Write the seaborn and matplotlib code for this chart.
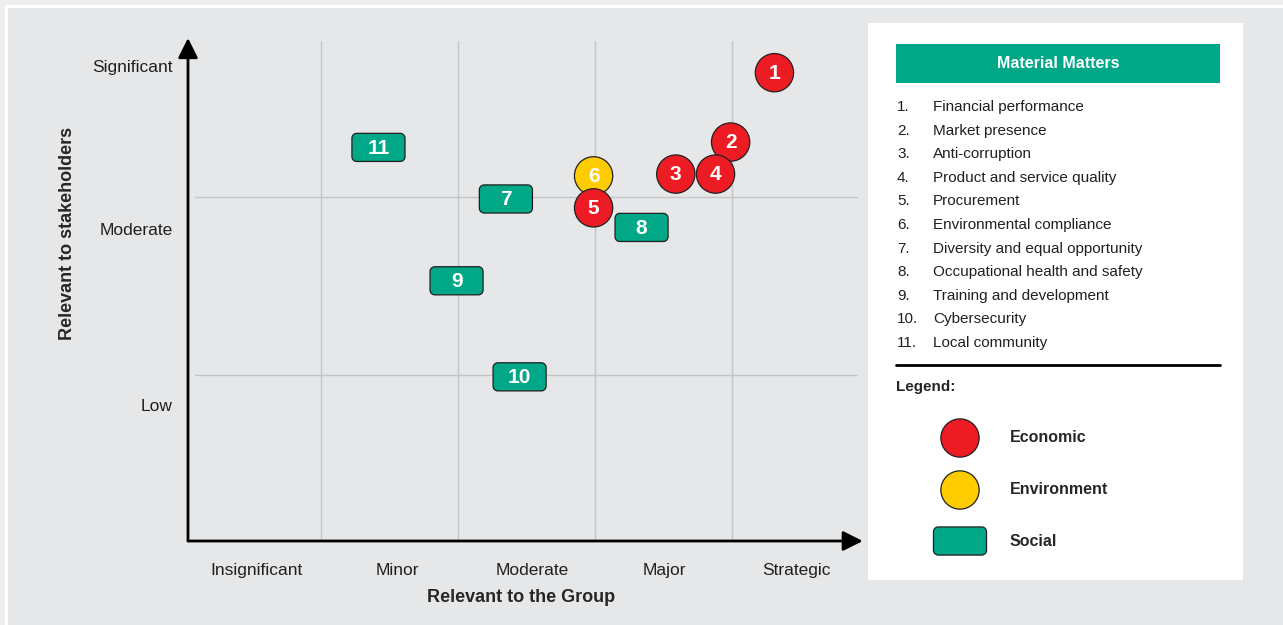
import numpy as np
import pandas as pd
import matplotlib
matplotlib.use("Agg")
import matplotlib.pyplot as plt
from matplotlib.path import Path
from matplotlib.patches import Rectangle
import seaborn as sns

ids = [1, 2, 3, 4, 6, 5, 7, 8, 9, 10, 11]
relevancia_grupo = [4.31, 3.99, 3.59, 3.88, 2.99, 2.99, 2.35, 3.34, 1.99, 2.45, 1.42]
relevancia_stake = [2.70, 2.31, 2.13, 2.13, 2.12, 1.94, 1.99, 1.83, 1.53, 0.99, 2.28]
categoria = ["Economic", "Economic", "Economic", "Economic", "Environment", "Economic",
             "Social", "Social", "Social", "Social", "Social"]

x_labels = ["Insignificant", "Minor", "Moderate", "Major", "Strategic"]
x_label_pos = [0.53, 1.56, 2.54, 3.51, 4.47]
y_labels = ["Low", "Moderate", "Significant"]
y_label_pos = [0.83, 1.82, 2.74]

temas = ["Financial performance", "Market presence", "Anti-corruption",
         "Product and service quality", "Procurement", "Environmental compliance",
         "Diversity and equal opportunity", "Occupational health and safety",
         "Training and development", "Cybersecurity", "Local community"]
leyenda = ["Economic", "Environment", "Social"]

colores = {"Economic": "#ed1c24", "Environment": "#ffcc00", "Social": "#00a887"}
BG = "#e6e7e8"
VERDE = "#00a887"


def caja_redondeada(w=1.0, h=0.53, r=0.09, n=8):
    # marcador rectangular con esquinas redondeadas
    pts = []
    esquinas = [(w / 2 - r, h / 2 - r, 0), (-w / 2 + r, h / 2 - r, 90),
                (-w / 2 + r, -h / 2 + r, 180), (w / 2 - r, -h / 2 + r, 270)]
    for cx, cy, a0 in esquinas:
        ang = np.radians(np.linspace(a0, a0 + 90, n))
        pts += list(zip(cx + r * np.cos(ang), cy + r * np.sin(ang)))
    pts.append(pts[0])
    codes = [Path.MOVETO] + [Path.LINETO] * (len(pts) - 2) + [Path.CLOSEPOLY]
    return Path(pts, codes)


marcadores = {"Economic": "o", "Environment": "o", "Social": caja_redondeada()}
tamanos = {"Economic": 760, "Environment": 760, "Social": 1460}

df = pd.DataFrame({"id": ids, "x": relevancia_grupo, "y": relevancia_stake, "cat": categoria})

sns.set_style("white")
plt.rcParams["font.family"] = ["Liberation Sans", "DejaVu Sans"]

fig = plt.figure(figsize=(12.83, 6.25), dpi=100)
fig.patch.set_facecolor("#eeeeee")

# ---------- fondo y panel de leyenda (coordenadas en píxeles) ----------
bg = fig.add_axes([0, 0, 1, 1], zorder=0)
bg.set_xlim(0, 1283)
bg.set_ylim(625, 0)
bg.axis("off")
bg.add_patch(Rectangle((5, 5), 1290, 630, facecolor="white", edgecolor="none"))
bg.add_patch(Rectangle((8, 8), 1290, 630, facecolor=BG, edgecolor="none"))
bg.add_patch(Rectangle((868, 23), 375, 557, facecolor="white", edgecolor="none"))
bg.add_patch(Rectangle((896, 44), 324, 39, facecolor=VERDE, edgecolor="none"))
bg.text(1058, 63.5, "Material Matters", color="white", fontsize=11.5, fontweight="bold",
        ha="center", va="center")
for i, t in enumerate(temas):
    yy = 107 + i * 23.6
    bg.text(897, yy, f"{i + 1}.", fontsize=11, color="#231f20", va="center")
    bg.text(933, yy, t, fontsize=11, color="#231f20", va="center")
bg.plot([896, 1220], [365, 365], color="black", lw=2)
bg.text(896, 387, "Legend:", fontsize=11, fontweight="bold", va="center")

ley = pd.DataFrame({"cat": leyenda, "x": [960] * 3, "y": [438, 490, 541]})
sns.scatterplot(data=ley, x="x", y="y", hue="cat", style="cat", size="cat",
                palette=colores, markers=marcadores, sizes=tamanos,
                edgecolor="#231f20", linewidth=0.9, legend=False, ax=bg, zorder=3)
for _, r in ley.iterrows():
    bg.text(1010, r["y"], r["cat"], fontsize=11.5, fontweight="bold", va="center")
bg.set_xlim(0, 1283)
bg.set_ylim(625, 0)
bg.set_xlabel("")
bg.set_ylabel("")

# ---------- matriz ----------
ax = fig.add_axes([188 / 1283, 84 / 625, 681 / 1283, 511 / 625], zorder=1)
ax.set_facecolor("none")
x0, y0 = 0.03, 0.067
ax.set_xlim(x0, 5.0)
ax.set_ylim(y0, 2.94)
for s in ax.spines.values():
    s.set_visible(False)

for gx in [1, 2, 3, 4]:
    ax.plot([gx, gx], [y0, 2.88], color="#c4c5c7", lw=1, zorder=1)
for gy in [1, 2]:
    ax.plot([0.08, 4.91], [gy, gy], color="#c4c5c7", lw=1, zorder=1)

flecha = dict(arrowstyle="-|>,head_length=0.6,head_width=0.3", color="black", lw=2,
              shrinkA=0, shrinkB=0, mutation_scale=20)
ax.annotate("", xy=(x0, 2.895), xytext=(x0, y0), arrowprops=flecha, annotation_clip=False)
ax.annotate("", xy=(4.955, y0), xytext=(x0, y0), arrowprops=flecha, annotation_clip=False)

sns.scatterplot(data=df, x="x", y="y", hue="cat", style="cat", size="cat",
                palette=colores, markers=marcadores, sizes=tamanos,
                edgecolor="#231f20", linewidth=0.9, legend=False, ax=ax, zorder=3)
for _, r in df.iterrows():
    ax.text(r["x"], r["y"] - 0.005, str(r["id"]), color="white", fontsize=15, fontweight="bold",
            ha="center", va="center", zorder=4)

ax.set_xticks(x_label_pos)
ax.set_xticklabels(x_labels, fontsize=12.5, color="#231f20")
ax.set_yticks(y_label_pos)
ax.set_yticklabels(y_labels, fontsize=12.5, color="#231f20")
ax.tick_params(axis="x", length=0, pad=16)
ax.tick_params(axis="y", length=0, pad=11)
ax.set_xlabel("Relevant to the Group", fontsize=13, fontweight="bold")
ax.set_ylabel("Relevant to stakeholders", fontsize=13, fontweight="bold")
ax.xaxis.set_label_coords((521 - 188) / 681, -(598 - 541) / 511)
ax.yaxis.set_label_coords((67 - 188) / 681, (541 - 233) / 511)
ax.xaxis.label.set_va("center")
ax.yaxis.label.set_va("center")

fig.savefig("out.png", dpi=100, facecolor=fig.get_facecolor())
